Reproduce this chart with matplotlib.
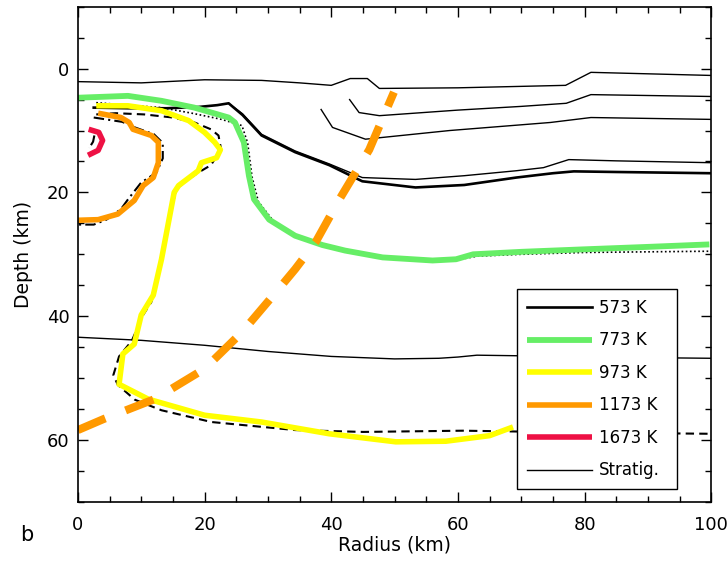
import matplotlib
matplotlib.use("Agg")
import matplotlib.pyplot as plt
from matplotlib.ticker import MultipleLocator

# --- data (radius km, depth km) ---
# stratigraphic horizons
strat1_x = [0, 10, 20, 29, 35, 40, 43, 45.7, 47.6, 60, 77, 81, 100]
strat1_d = [2.1, 2.3, 1.8, 1.9, 2.3, 2.7, 1.6, 1.6, 3.2, 3.1, 2.7, 0.6, 1.1]
strat2_x = [42.9, 44.4, 47.6, 60, 70, 77.1, 81, 100]
strat2_d = [5.0, 7.1, 7.6, 6.7, 6.1, 5.6, 4.2, 4.5]
strat3_x = [38.4, 40.2, 45.4, 58.7, 74.6, 81, 100]
strat3_d = [6.6, 9.5, 11.4, 10.0, 8.7, 7.9, 8.2]
strat4_x = [23.8, 26, 29, 34.3, 39.7, 44.9, 53.3, 61, 69.2, 73.5, 77.5, 85, 100]
strat4_d = [5.6, 7.3, 10.6, 13.3, 15.4, 17.6, 17.9, 17.3, 16.5, 16.0, 14.7, 14.9, 15.2]
strat5_x = [0, 10, 20, 30, 40, 50, 57, 60, 63, 70, 80, 90, 100]
strat5_d = [43.4, 43.9, 44.7, 45.7, 46.5, 46.9, 46.8, 46.6, 46.3, 46.4, 46.6, 46.7, 46.8]

# original black isotherms
k573_x = [2.5, 8, 14, 19, 22, 23.8, 26, 29, 34.3, 39.7, 44.9, 53.3, 61, 69.2, 75, 78.3, 85, 100]
k573_d = [6.3, 6.4, 6.4, 6.2, 5.9, 5.6, 7.5, 10.8, 13.5, 15.6, 18.2, 19.2, 18.8, 17.6, 16.9, 16.6, 16.7, 16.9]
k773_x = [2.9, 8, 13.2, 18, 22.7, 25.9, 26.8, 27.5, 28.5, 31, 35, 39, 43, 48, 56, 60, 63, 70, 80, 90, 100]
k773_d = [5.5, 5.9, 6.3, 7.2, 8.2, 9.2, 12, 17.5, 21.5, 24.8, 27.2, 28.7, 29.6, 30.6, 31.1, 30.9, 30.3, 30.0, 29.7, 29.6, 29.5]
k973_x = [2.9, 6, 10.5, 15, 18.4, 21, 22.2, 22.6, 21, 19, 17, 15.5, 13.2, 11.6, 10.3, 8.5, 6.5,
          5.6, 6.3, 9, 13.2, 21.1, 34.3, 45, 60.8, 80, 100]
k973_d = [7.4, 7.2, 7.4, 7.9, 8.7, 9.8, 10.8, 13, 15.6, 16.8, 18.2, 19.5, 30.2, 37.7, 39.8, 44.0, 46.5,
          49.5, 51.1, 53.5, 55.2, 57.1, 58.4, 58.7, 58.5, 58.8, 59.0]
k1173_x = [2.5, 7, 9, 12, 13.4, 13.4, 12.4, 10, 8, 6.8, 4.5, 2.5, 0]
k1173_d = [7.9, 8.6, 9.5, 10.6, 12, 14.5, 16.8, 18.4, 21, 22.7, 24.4, 25.2, 25.2]
k1673_x = [2.6, 2.4, 1.8]
k1673_d = [10.8, 11.8, 12.8]

# coloured highlights
green_x = [0, 7.9, 13.2, 18.4, 23.8, 24.8, 26.2, 27, 27.8, 30.2, 34.3, 38.6, 42.2, 48.1, 56, 59.7,
           62.4, 70, 79.8, 90, 99.7]
green_d = [4.7, 4.4, 5.2, 6.3, 7.9, 8.7, 11.9, 17.3, 21.1, 24.4, 27, 28.5, 29.4, 30.5, 31, 30.8,
           30.0, 29.6, 29.2, 28.8, 28.4]
yellow_x = [2.9, 7.9, 13.2, 17.5, 20, 21.6, 22.5, 21.9, 19.5, 19, 15.9, 15.2, 13.2, 11.9, 10, 8.9,
            7.1, 6.5, 11.1, 20, 29, 39.7, 50.2, 58.1, 65, 68.7]
yellow_d = [6.0, 6.0, 6.8, 8.4, 10.3, 11.9, 13.1, 14.4, 15.2, 16.5, 18.9, 20, 30.8, 36.6, 39.8, 44.5,
            46.1, 51, 53.4, 56, 57.1, 59, 60.3, 60.2, 59.3, 57.9]
orange_x = [3.2, 6.8, 8.1, 8.7, 11.6, 12.7, 12.7, 11.9, 10.3, 8.9, 6.3, 3.2, 0]
orange_d = [7.2, 7.9, 8.7, 9.8, 10.8, 11.9, 15.2, 17.6, 18.9, 21.3, 23.5, 24.4, 24.5]
red_x = [1.7, 3.3, 3.9, 3.2, 1.6]
red_d = [9.8, 10.3, 11.6, 13.2, 14.0]

# orange dashed diagonal
diag_x = [0, 4.1, 12.1, 20, 25.9, 31.7, 34.3, 37.5, 41.3, 46, 49.9]
diag_d = [58.4, 56.6, 53.4, 48.5, 42.6, 35.6, 32.4, 28.1, 21.1, 13.1, 3.8]

labels = ["573 K", "773 K", "973 K", "1173 K", "1673 K", "Stratig."]

GREEN = "#66ee66"
YELLOW = "#ffff00"
ORANGE = "#ff9900"
RED = "#ee1144"

plt.rcParams["font.family"] = "DejaVu Sans"
fig = plt.figure(figsize=(7.28, 5.62), dpi=100)
ax = fig.add_axes([0.107, 0.107, 0.870, 0.881])

# thin stratigraphy lines
for xs, ds in [(strat1_x, strat1_d), (strat2_x, strat2_d), (strat3_x, strat3_d),
               (strat4_x, strat4_d), (strat5_x, strat5_d)]:
    ax.plot(xs, ds, color="black", lw=1.0)
strat_h, = ax.plot([], [], color="black", lw=1.0)

# original black isotherms
h573, = ax.plot(k573_x, k573_d, color="black", lw=1.9)
h773b, = ax.plot(k773_x, k773_d, color="black", lw=1.2, ls=(0, (1, 1.5)))
h973b, = ax.plot(k973_x, k973_d, color="black", lw=1.5, ls=(0, (4, 2.5)))
h1173b, = ax.plot(k1173_x, k1173_d, color="black", lw=1.5, ls=(0, (5, 2, 1, 2)))
h1673b, = ax.plot(k1673_x, k1673_d, color="black", lw=1.5, ls=(0, (5, 1.5, 1, 1.5, 1, 1.5)))

# coloured highlights
hg, = ax.plot(green_x, green_d, color=GREEN, lw=4.2, solid_capstyle="butt")
hy, = ax.plot(yellow_x, yellow_d, color=YELLOW, lw=4.0, solid_capstyle="butt")
ho, = ax.plot(orange_x, orange_d, color=ORANGE, lw=4.0, solid_capstyle="butt")
hr, = ax.plot(red_x, red_d, color=RED, lw=4.0, solid_capstyle="butt")

ax.plot(diag_x, diag_d, color=ORANGE, lw=5.8, ls=(0, (3.7, 2.7)), solid_capstyle="butt")

ax.set_xlim(0, 100)
ax.set_ylim(70, -10)
ax.xaxis.set_major_locator(MultipleLocator(20))
ax.xaxis.set_minor_locator(MultipleLocator(5))
ax.yaxis.set_major_locator(MultipleLocator(20))
ax.yaxis.set_minor_locator(MultipleLocator(5))
ax.tick_params(which="both", direction="in", top=True, right=True, width=1.0, labelsize=13)
ax.tick_params(which="major", length=7)
ax.tick_params(which="minor", length=4)
ax.tick_params(axis="x", which="major", pad=10)
ax.tick_params(axis="y", which="major", pad=6)
ax.set_yticks([0, 20, 40, 60])
for s in ax.spines.values():
    s.set_linewidth(1.2)

ax.set_xlabel("Radius (km)", fontsize=13.5, labelpad=1)
ax.set_ylabel("Depth (km)", fontsize=13.5, labelpad=10)

leg = ax.legend([h573, (h773b, hg), (h973b, hy), (h1173b, ho), (h1673b, hr), strat_h], labels,
                loc="upper left", bbox_to_anchor=(0.694, 0.03, 0.252, 0.40), mode="expand",
                borderaxespad=0, fontsize=12, handlelength=3.9, labelspacing=0.87,
                frameon=True, fancybox=False, edgecolor="black", framealpha=1,
                borderpad=0.6, handletextpad=0.4)
leg.get_frame().set_linewidth(1.0)

fig.text(0.027, 0.048, "b", fontsize=15, va="center", ha="left")

fig.savefig("out.png", dpi=100)
